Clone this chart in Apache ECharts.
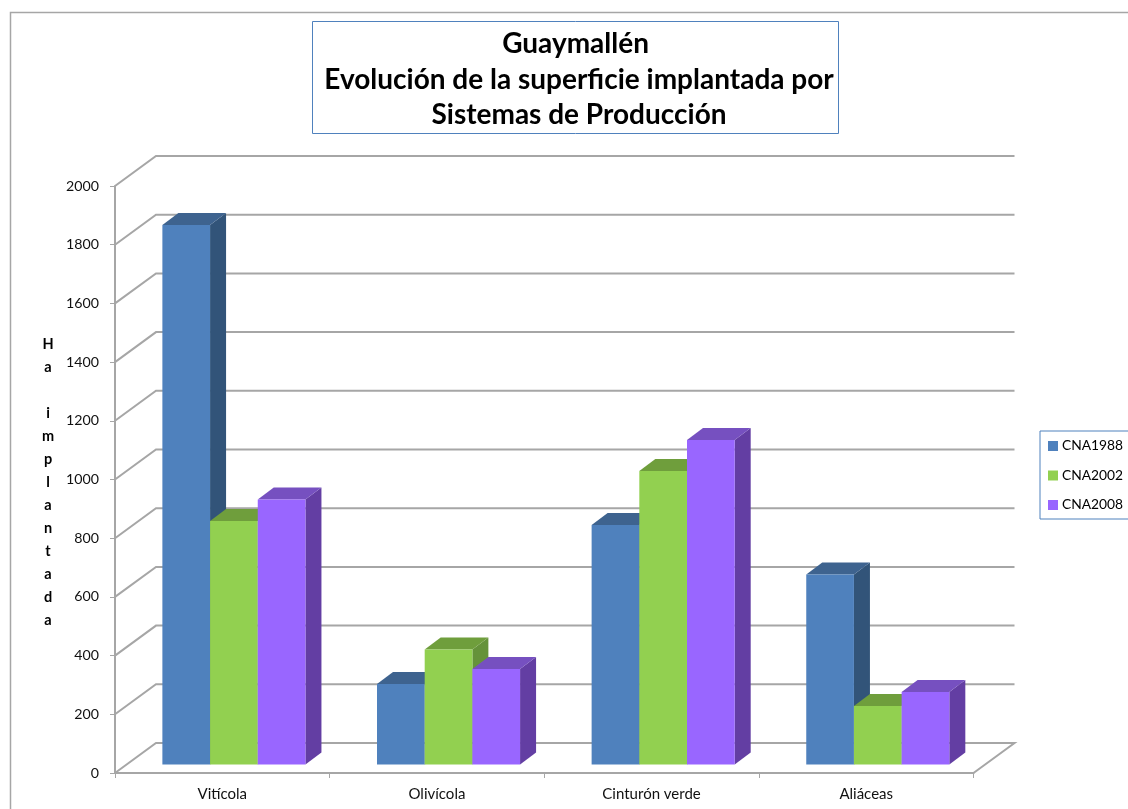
<!DOCTYPE html>
<html><head><meta charset="utf-8">
<style>html,body{margin:0;padding:0;background:#fff;overflow:hidden}#c{width:1128px;height:809px}</style>
<script src="https://cdn.jsdelivr.net/npm/echarts@6/dist/echarts.min.js"></script>
</head><body><div id="c"></div>
<script>
const categories = ['Vitícola', 'Olivícola', 'Cinturón verde', 'Aliáceas'];
const seriesNames = ['CNA1988', 'CNA2002', 'CNA2008'];
const cna1988 = [1838, 274, 816, 647];
const cna2002 = [830, 392, 1000, 199];
const cna2008 = [903, 325, 1106, 247];
const yTicks = [0, 200, 400, 600, 800, 1000, 1200, 1400, 1600, 1800, 2000];
const titleText = 'Guaymallén \nEvolución de la superficie implantada por\nSistemas de Producción';
const yName = 'H\na\n\ni\nm\np\nl\na\nn\nt\na\nd\na';

const WALL_DX = 41, WALL_DY = -30;
const FRONT_DX = 11.6, FRONT_DY = -8.5, SIDE_DX = 16, SIDE_DY = -12;
const GRID_COLOR = '#a6a6a6';
const colors = [
  {front:'#4f81bd', top:'#3e638f', side:'#325479'},
  {front:'#92d050', top:'#6f9e3c', side:'#65923a'},
  {front:'#9966ff', top:'#7650c0', side:'#633ea3'}
];

function gridRender(params, api) {
  const cs = params.coordSys;
  const y = api.coord([0, api.value(1)])[1];
  const x0 = cs.x, x1 = cs.x + cs.width;
  const pts = [[x0, y], [x0 + WALL_DX, y + WALL_DY], [x1 + WALL_DX, y + WALL_DY]];
  if (api.value(1) === 0) pts.push([x1, y]);
  return {type:'polyline', shape:{points:pts},
    style:{fill:null, stroke:GRID_COLOR, lineWidth:2}, silent:true};
}
function barRender(idx) {
  return function (params, api) {
    const cat = api.value(0);
    const top = api.coord([cat, api.value(1)]);
    const base = api.coord([cat, 0]);
    const band = api.size([1, 0])[0];
    const w = band * 0.2222;
    const x = base[0] + FRONT_DX + (idx - 1.5) * w;
    const yT = top[1] + FRONT_DY, yB = base[1] + FRONT_DY;
    const c = colors[idx];
    return {type:'group', children:[
      {type:'polygon', shape:{points:[[x + w, yT],[x + w + SIDE_DX, yT + SIDE_DY],[x + w + SIDE_DX, yB + SIDE_DY],[x + w, yB]]}, style:{fill:c.side}},
      {type:'polygon', shape:{points:[[x, yT],[x + SIDE_DX, yT + SIDE_DY],[x + w + SIDE_DX, yT + SIDE_DY],[x + w, yT]]}, style:{fill:c.top}},
      {type:'rect', shape:{x:x, y:yT, width:w, height:yB - yT}, style:{fill:c.front}}
    ]};
  };
}
const barSeries = [cna1988, cna2002, cna2008].map((vals, i) => ({
  name: seriesNames[i], type:'custom', z:3, renderItem: barRender(i),
  itemStyle:{color:colors[i].front}, encode:{x:0, y:1},
  data: vals.map((v, k) => [k, v])
}));

const chart = echarts.init(document.getElementById('c'), null, {renderer:'canvas'});
chart.setOption({
  animation:false, backgroundColor:'#fff',
  textStyle:{fontFamily:'Lato'},
  title:{text:titleText, left:574, top:21.5, textAlign:'center',
    textStyle:{fontFamily:'Lato', fontWeight:'bold', fontSize:28, lineHeight:35.5, color:'#000'}},
  graphic:[
    {type:'rect', z:-1, shape:{x:10.5, y:12.5, width:1200, height:900}, style:{fill:'#fff', stroke:'#a6a6a6', lineWidth:1.5}},
    {type:'rect', z:-1, shape:{x:312.5, y:21.5, width:526, height:112}, style:{fill:'#fff', stroke:'#4f81bd', lineWidth:1}},
    {type:'text', z:5, style:{text:yName, x:48, y:332.5, textAlign:'center', textVerticalAlign:'top',
      font:'bold 14.5px Lato', lineHeight:23, fill:'#000'}}
  ],
  legend:{orient:'vertical', left:1040, top:431, data:seriesNames, icon:'rect',
    itemWidth:10, itemHeight:10, itemGap:15.5, padding:[8,12,7,8],
    backgroundColor:'#fff', borderColor:'#4f81bd', borderWidth:1,
    textStyle:{fontFamily:'Lato', fontSize:13.8, color:'#000', padding:[0,0,0,-1]}},
  grid:{left:115, right:154.5, top:186, bottom:36, containLabel:false},
  xAxis:{type:'category', data:categories, boundaryGap:true,
    axisLine:{lineStyle:{color:GRID_COLOR, width:2}},
    axisTick:{show:true, length:5, alignWithLabel:false, lineStyle:{color:GRID_COLOR}},
    axisLabel:{color:'#111', fontSize:15, margin:14, fontFamily:'Lato'},
    splitLine:{show:false}},
  yAxis:{type:'value', min:0, max:2000, interval:200,
    axisLine:{show:true, lineStyle:{color:GRID_COLOR, width:2}},
    axisTick:{show:true, length:5, lineStyle:{color:GRID_COLOR}},
    axisLabel:{color:'#111', fontSize:14.2, margin:16, fontFamily:'Lato', formatter:function(v){return String(v);}},
    splitLine:{show:false}},
  series:[
    {name:'grid', type:'custom', z:1, silent:true, renderItem:gridRender, encode:{x:0,y:1},
      data:yTicks.map(t => [0, t])},
    ...barSeries
  ]
});
</script></body></html>
